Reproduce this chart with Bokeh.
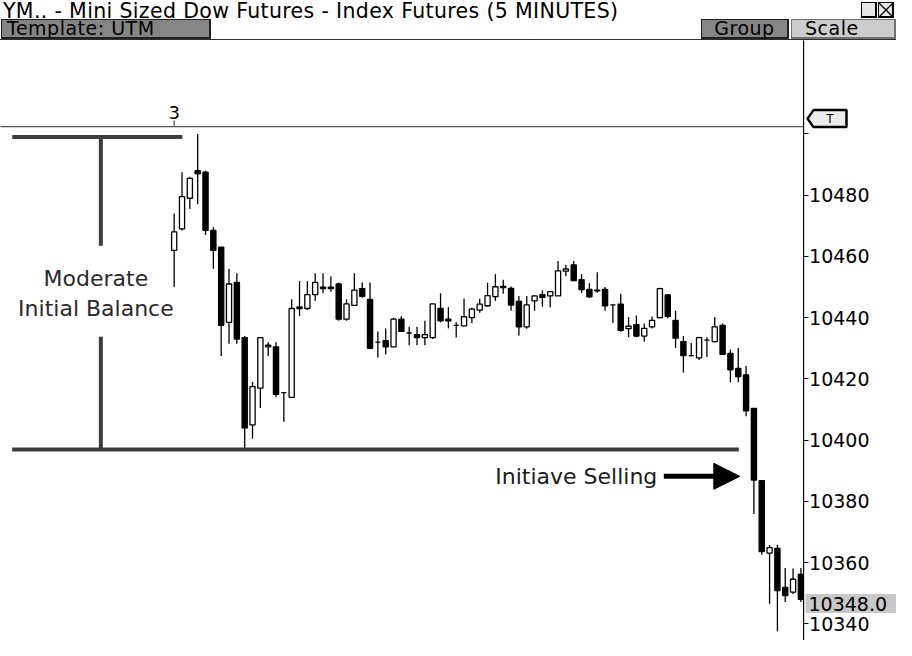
from bokeh.plotting import figure
from bokeh.layouts import column, row
from bokeh.models import Range1d, FixedTicker, Span, Label, Arrow, NormalHead, ColumnDataSource, Div
from bokeh.embed import file_html
from bokeh.resources import INLINE
from bokeh.core.properties import value

# ---------------- data (5-minute bars) ----------------
opens = [10462, 10469, 10479, 10488, 10487.5, 10468.5, 10463, 10438.5, 10451.5, 10433.5,
         10405, 10417, 10430.5, 10430.5, 10415.5, 10414, 10443.5, 10443, 10447.5, 10450,
         10450, 10451, 10439.5, 10444, 10449.5, 10446, 10432, 10432.5, 10430.5, 10439.5,
         10435, 10434.5, 10433.5, 10433.5, 10443, 10439.5, 10437.5, 10437.3, 10440, 10442.5,
         10443.9, 10446.9, 10450.2, 10449.6, 10445.3, 10437, 10445.5, 10447.5, 10447.1, 10447.1,
         10455.2, 10457.2, 10452.4, 10449.2, 10449, 10449.2, 10444.2, 10444.4, 10436.4, 10437.7,
         10434, 10437, 10440, 10447.4, 10439.1, 10432.2, 10427.6, 10426.9, 10432.7, 10432.2,
         10437.5, 10428.3, 10423.4, 10421.3, 10410.4, 10386.8, 10363.1, 10364.7, 10351.9, 10350.4,
         10356.2]
highs = [10474, 10487.5, 10486, 10500, 10488, 10469.5, 10463, 10456, 10454.5, 10434,
         10419, 10433.5, 10432, 10432, 10415.5, 10446, 10452, 10452, 10454.5, 10454.5,
         10453.5, 10451.5, 10446, 10454.5, 10451.5, 10451.5, 10435.5, 10436.5, 10440, 10440.5,
         10437, 10437, 10439, 10444.5, 10448, 10443.5, 10438.5, 10446.3, 10443.3, 10446.2,
         10451.4, 10454.2, 10452.4, 10450.2, 10447.1, 10447.1, 10447.1, 10448.9, 10448.6, 10458.5,
         10457.2, 10458.5, 10454.2, 10451.3, 10454.8, 10450, 10444.3, 10447.8, 10440.2, 10440.7,
         10438.1, 10440.4, 10449.8, 10447.6, 10442.3, 10434, 10431.7, 10433.8, 10433.6, 10440.2,
         10438.1, 10429.6, 10430.1, 10424.2, 10410.4, 10386.8, 10365.8, 10365.8, 10358.3, 10358.1,
         10358.3]
lows = [10450, 10468.5, 10475.5, 10477, 10467, 10456, 10427.5, 10431.5, 10431.5, 10397,
        10400.5, 10410.5, 10427.5, 10414, 10406, 10414, 10440.5, 10442.5, 10445.5, 10448,
        10448.5, 10439, 10439, 10444, 10446.5, 10430, 10427, 10428, 10430.5, 10435.5,
        10431, 10431, 10431, 10433, 10438.5, 10436.5, 10433.5, 10437.2, 10438.2, 10441.6,
        10443.6, 10445.5, 10447.8, 10442.3, 10434.2, 10436.4, 10442.3, 10443.6, 10443.4, 10447.1,
        10453.5, 10451.9, 10448.1, 10446.5, 10448.1, 10442.3, 10438.3, 10435.4, 10433.6, 10433.6,
        10432.2, 10436.5, 10439.7, 10439.7, 10430.1, 10422.1, 10427.3, 10426.2, 10427.2, 10431.9,
        10428, 10418.9, 10418.9, 10407.8, 10375.9, 10362.6, 10346.6, 10337.6, 10347.2, 10349.8,
        10347.2]
closes = [10468, 10479.5, 10485.5, 10487, 10468.5, 10462, 10437.5, 10451, 10433, 10404,
          10417.5, 10433.5, 10431, 10415, 10415.5, 10443, 10443, 10447.5, 10451.5, 10449.5,
          10449.5, 10439.5, 10444.5, 10449, 10447, 10430, 10432, 10430.5, 10439.5, 10435.5,
          10435, 10433.5, 10434.5, 10444.5, 10439, 10439, 10437.5, 10440.3, 10442.8, 10444.4,
          10447.2, 10450.1, 10449.8, 10444.1, 10437, 10444.2, 10447.1, 10446.6, 10448.5, 10455.3,
          10455.9, 10452.1, 10449.2, 10446.8, 10448.8, 10443.9, 10444.2, 10435.9, 10437.2, 10434,
          10436.5, 10439.1, 10449.5, 10440.4, 10433.3, 10427.6, 10427.6, 10433.5, 10432.7, 10437,
          10428, 10423, 10420.8, 10409.6, 10387, 10363.6, 10364.9, 10350.9, 10349.3, 10354.6,
          10348]

y_ticks = [10340, 10360, 10380, 10400, 10420, 10440, 10460, 10480, 10500]
hidden_tick_labels = {10500: ""}
session_label = "3"
ib_bars = 12
title_text = "YM.. - Mini Sized Dow Futures - Index Futures (5 MINUTES)"
button_texts = ["Template: UTM", "Group", "Scale"]
ib_text = ["Moderate", "Initial Balance"]
selling_text = "Initiave Selling"
tag_text = "T"

# ---------------- layout / style constants ----------------
FONT = "DejaVu Sans"
W_TOTAL, W_CHART, W_SCALE = 896, 803, 93
H_HEAD, H_MAIN = 40, 600
X_START, X_END = -22.17, 80.33
Y_LOW, Y_HIGH = 10334.6, 10530.5
PX = (Y_HIGH - Y_LOW) / H_MAIN          # price units per screen pixel
TIME_LINE_Y = 10502.4
TAG_Y = 10505.0
LINE_GRAY = "#3c3c3c"

# ---------------- header (window chrome) ----------------
def box(left, top, w, h, bg, text="", fs=19, pad=3, align="left", border="#202020"):
    return (f'<div style="position:absolute;left:{left}px;top:{top}px;width:{w}px;height:{h}px;'
            f'background:{bg};border:1px solid {border};border-right-width:2px;border-bottom-width:2px;'
            f'box-sizing:border-box;font-size:{fs}px;line-height:{h - 3}px;text-align:{align};'
            f'padding-left:{pad}px;white-space:nowrap;letter-spacing:0.5px;color:black;">{text}</div>')

head_html = (
    f'<div style="position:relative;width:{W_TOTAL}px;height:{H_HEAD}px;background:white;'
    f'font-family:\'{FONT}\';">'
    f'<div style="position:absolute;left:3px;top:1px;font-size:20.5px;line-height:20px;'
    f'letter-spacing:0.35px;white-space:nowrap;color:black;">{title_text}</div>'
    + box(861, 2, 16, 16, "#e6e6e6", border="black")
    + box(878, 2, 16, 16, "#e6e6e6", border="black")
    + '<svg style="position:absolute;left:878px;top:2px;" width="16" height="16">'
      '<line x1="1" y1="1" x2="15" y2="15" stroke="black" stroke-width="1.3"/>'
      '<line x1="15" y1="1" x2="1" y2="15" stroke="black" stroke-width="1.3"/></svg>'
    + box(1, 19, 210, 20, "#858585", button_texts[0], pad=5)
    + box(701, 19, 88, 20, "#858585", button_texts[1], pad=0, align="center")
    + box(791, 19, 105, 20, "#cccccc", button_texts[2], pad=13, border="#707070")
    + f'<div style="position:absolute;left:0px;top:38.5px;width:{W_TOTAL}px;height:0px;'
      f'border-top:1.5px solid #303030;"></div>'
    + '</div>'
)
header = Div(text=head_html, width=W_TOTAL, height=H_HEAD, margin=0)

# ---------------- price chart ----------------
yr = Range1d(Y_LOW, Y_HIGH)
p = figure(width=W_CHART, height=H_MAIN, x_range=Range1d(X_START, X_END), y_range=yr,
           x_axis_type=None, y_axis_type=None, toolbar_location=None, output_backend="svg",
           min_border=0, background_fill_color="white", border_fill_color="white",
           outline_line_color=None)
p.grid.visible = False

n = len(closes)
src = ColumnDataSource(dict(
    x=list(range(n)), o=opens, h=highs, l=lows, c=closes,
    top=[max(o, c) for o, c in zip(opens, closes)],
    bot=[min(o, c) for o, c in zip(opens, closes)],
    fill=["white" if c >= o else "black" for o, c in zip(opens, closes)],
))
p.segment(x0="x", y0="l", x1="x", y1="h", source=src, line_color="black", line_width=1.3)
p.vbar(x="x", width=0.66, top="top", bottom="bot", fill_color="fill", line_color="black",
       line_width=1.3, source=src)

# time axis line with session marker
p.add_layout(Span(location=TIME_LINE_Y, dimension="width", line_color="#555555", line_width=1.2))
p.segment(x0=[0], y0=[TIME_LINE_Y], x1=[0], y1=[TIME_LINE_Y + 2], line_color="#555555", line_width=1.2)
p.add_layout(Label(x=0, y=TIME_LINE_Y, y_offset=8, text=session_label, text_align="center",
                   text_baseline="bottom", text_font=FONT, text_font_size="18px", text_color="black"))

# initial balance bracket
ib_high = max(highs[:ib_bars])
ib_low = min(lows[:ib_bars])
p.segment(x0=[-20.67, -20.67], y0=[ib_high - 1, ib_low], x1=[1.04, 72.07], y1=[ib_high - 1, ib_low],
          line_color=LINE_GRAY, line_width=4)
p.segment(x0=[-9.36, -9.36], y0=[ib_high - 1, 10433.8], x1=[-9.36, -9.36], y1=[10463.5, ib_low],
          line_color=LINE_GRAY, line_width=4)
p.text(x=[-9.99, -9.99], y=[10452.9, 10443.1], text=ib_text, text_align="center",
       text_baseline="middle", text_font=value(FONT), text_font_size="22px", text_color="#2a2a2a")

# initiative selling arrow
p.text(x=[61.67], y=[10388.2], text=[selling_text], text_align="right", text_baseline="middle",
       text_font=value(FONT), text_font_size="22px", text_color="#1a1a1a")
p.add_layout(Arrow(end=NormalHead(size=26, fill_color="black", line_color="black", line_width=1),
                   x_start=62.5, y_start=10388.2, x_end=72.2, y_end=10388.2,
                   line_color="black", line_width=5))

# ---------------- price scale (right column) ----------------
s = figure(width=W_SCALE, height=H_MAIN, x_range=Range1d(0, W_SCALE), y_range=yr,
           x_axis_type=None, y_axis_location="left", toolbar_location=None, output_backend="svg",
           min_border=0, background_fill_color="white", border_fill_color="white",
           outline_line_color=None)
s.grid.visible = False
ax = s.yaxis[0]
ax.ticker = FixedTicker(ticks=y_ticks)
ax.major_label_overrides = hidden_tick_labels
ax.minor_tick_line_color = None
ax.major_tick_in = 5
ax.major_tick_out = 0
ax.major_tick_line_color = "black"
ax.axis_line_color = "black"
ax.axis_line_width = 1.3
ax.major_label_text_font = FONT
ax.major_label_text_font_size = "19px"
ax.major_label_text_color = "black"
ax.major_label_standoff = -66

# last price marker
s.add_layout(Label(x=2, y=closes[-1], y_offset=-4, text=f"{closes[-1]:.1f}",
                   text_baseline="middle", text_font=FONT, text_font_size="19px", text_color="black",
                   background_fill_color="#c8c8c8", padding=dict(left=3, right=20, top=3, bottom=2)))

# "T" tag (pointed on the left)
tag_h = 8.5 * PX
s.patch(x=[4, 10, 43, 43, 10], y=[TAG_Y, TAG_Y + tag_h, TAG_Y + tag_h, TAG_Y - tag_h, TAG_Y - tag_h],
        fill_color="#ececec", line_color="black", line_width=2.5)
s.text(x=[26.5], y=[TAG_Y], text=[tag_text], text_align="center", text_baseline="middle",
       text_font=value(FONT), text_font_size="12px", text_color="black")

layout = column(header, row(p, s, spacing=0), spacing=0)
open("out.html", "w").write(file_html(layout, INLINE))
